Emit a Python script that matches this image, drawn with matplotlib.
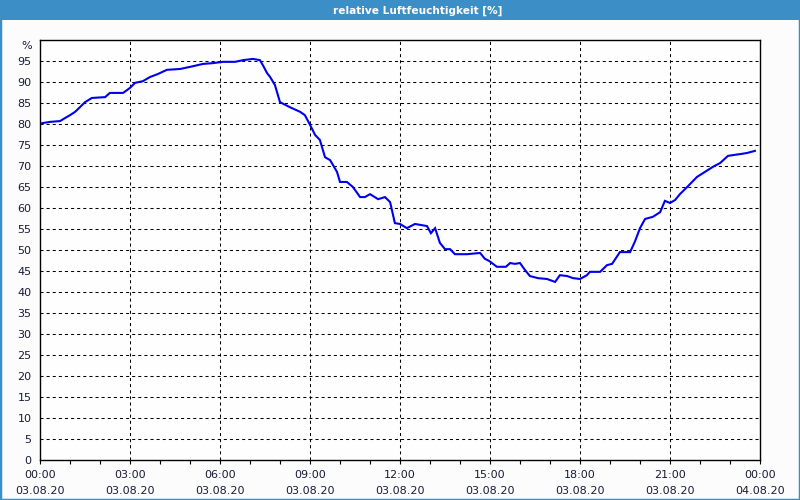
import matplotlib
matplotlib.use("Agg")
import matplotlib.pyplot as plt
import matplotlib.transforms as mtransforms
from matplotlib.patches import Rectangle

plt.rcParams['lines.scale_dashes'] = False
plt.rcParams['font.family'] = ['DejaVu Sans']

title = "relative Luftfeuchtigkeit [%]"
unit_label = "%"

hours = [0, 0.07, 0.33, 0.67, 0.83, 1.0, 1.17, 1.33, 1.5, 1.73, 2.17, 2.33, 2.77,
         3.0, 3.17, 3.43, 3.67, 3.93, 4.23, 4.67, 5.0, 5.43, 5.77, 6.1, 6.5, 6.77,
         7.1, 7.33, 7.43, 7.57, 7.67, 7.83, 8.0, 8.33, 8.67, 8.83, 9.0, 9.17, 9.33,
         9.5, 9.67, 9.9, 10.0, 10.23, 10.43, 10.67, 10.83, 11.0, 11.27, 11.5, 11.67,
         11.83, 12.0, 12.23, 12.5, 12.9, 13.03, 13.17, 13.33, 13.5, 13.67, 13.83,
         14.23, 14.67, 14.83, 14.97, 15.23, 15.53, 15.67, 15.83, 16.0, 16.17, 16.33,
         16.6, 16.9, 17.17, 17.33, 17.57, 17.77, 18.0, 18.23, 18.33, 18.67, 18.9,
         19.07, 19.33, 19.67, 19.83, 20.0, 20.17, 20.43, 20.67, 20.83, 21.0, 21.17,
         21.33, 21.6, 21.9, 22.1, 22.43, 22.67, 22.93, 23.1, 23.4, 23.57, 23.83]
humidity = [80.0, 80.2, 80.5, 80.7, 81.4, 82.1, 82.9, 84.0, 85.2, 86.2, 86.4, 87.4, 87.4,
            88.6, 89.8, 90.2, 91.2, 91.9, 92.9, 93.1, 93.6, 94.3, 94.5, 94.8, 94.8, 95.2,
            95.5, 95.2, 94.0, 92.1, 91.2, 89.3, 85.2, 84.0, 82.9, 82.1, 79.8, 77.4, 76.2,
            72.1, 71.4, 68.6, 66.2, 66.2, 65.0, 62.6, 62.6, 63.3, 62.1, 62.6, 61.4,
            56.4, 56.2, 55.2, 56.2, 55.7, 54.0, 55.2, 51.7, 50.2, 50.2, 49.0,
            49.0, 49.3, 47.9, 47.4, 46.0, 46.0, 46.9, 46.7, 46.9, 45.2, 43.8,
            43.3, 43.1, 42.4, 44.0, 43.8, 43.3, 43.1, 44.0, 44.8, 44.8, 46.4,
            46.7, 49.5, 49.5, 52.0, 55.2, 57.4, 57.9, 59.0, 61.7, 61.2, 61.9,
            63.3, 65.2, 67.4, 68.3, 69.8, 70.7, 72.4, 72.6, 72.9, 73.1, 73.6]

xtick_hours = [0, 3, 6, 9, 12, 15, 18, 21, 24]
xtick_labels = ["00:00\n03.08.20", "03:00\n03.08.20", "06:00\n03.08.20",
                "09:00\n03.08.20", "12:00\n03.08.20", "15:00\n03.08.20",
                "18:00\n03.08.20", "21:00\n03.08.20", "00:00\n04.08.20"]
ytick_values = list(range(0, 100, 5))

fig = plt.figure(figsize=(8, 5), dpi=100)
fig.patch.set_facecolor('#fbfcfb')

# window frame and title bar
frame_col = '#3c8fc6'
fig.add_artist(Rectangle((0, 0), 1, 1, transform=fig.transFigure,
                         fill=False, edgecolor=frame_col, linewidth=2.5))
fig.add_artist(Rectangle((0, 1 - 20 / 500), 1, 20 / 500, transform=fig.transFigure,
                         facecolor=frame_col, edgecolor='none'))
fig.text(418 / 800, 1 - 10.5 / 500, title, color='white', fontsize=7.6, fontweight='bold',
         ha='center', va='center')

ax = fig.add_axes([40 / 800, 40 / 500, 720 / 800, 420 / 500])
ax.set_facecolor('#fdfefd')
ax.plot(hours, humidity, color='#0000ee', linewidth=1.5, solid_joinstyle='miter')

ax.set_xlim(0, 24)
ax.set_ylim(0, 100)
ax.set_xticks(xtick_hours)
ax.set_xticklabels(xtick_labels, fontsize=8, linespacing=1.75)
ax.set_xticks(range(0, 25), minor=True)
ax.set_yticks(ytick_values)
ax.set_yticklabels([str(v) for v in ytick_values], fontsize=8)

ax.tick_params(axis='x', which='both', direction='out', length=3, width=0.8,
               pad=4, colors='black')
ax.tick_params(axis='y', which='both', length=0, pad=6, colors='black')
ax.tick_params(axis='x', labelcolor='#1a1a3a')
ax.tick_params(axis='y', labelcolor='#1a1a3a')

for v in ytick_values[1:]:
    ax.axhline(v, color='black', linewidth=0.75, linestyle=(0, (2.2, 2.2)), zorder=0)
for h in xtick_hours[1:-1]:
    ax.axvline(h, color='black', linewidth=0.75, linestyle=(0, (2.2, 2.2)), zorder=0)

for s in ax.spines.values():
    s.set_color('black')
    s.set_linewidth(1.0)

trans = mtransforms.blended_transform_factory(ax.transAxes, ax.transData)
ax.text(-8 / 720, 98.6, unit_label, transform=trans, fontsize=8, ha='right',
        va='center', color='#1a1a3a')

fig.savefig('out.png', dpi=100, facecolor=fig.get_facecolor())
